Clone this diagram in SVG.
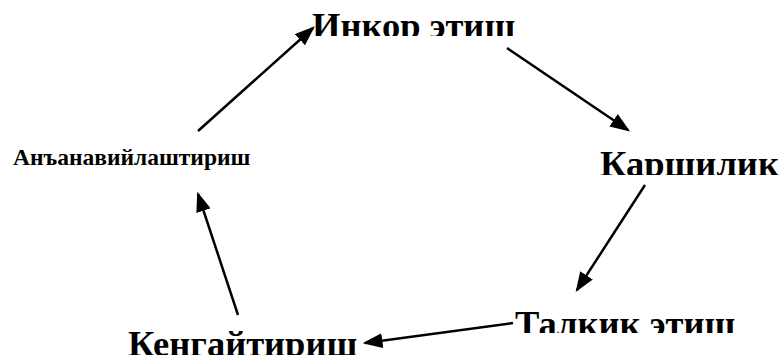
<svg xmlns="http://www.w3.org/2000/svg" width="783" height="356" viewBox="0 0 783 356">
<style>
text{font-family:"Liberation Serif","Times New Roman",serif;font-weight:bold;fill:#000}
.big{font-size:36.5px}
.small{font-size:23.5px}
.c line{stroke:#000;stroke-width:2.5}
</style>
<defs>
<marker id="ah" markerWidth="8" markerHeight="6" refX="7" refY="3" orient="auto" markerUnits="strokeWidth">
<path d="M0,0 L8,3 L0,6 Z" fill="#000"/>
</marker>
<clipPath id="c1"><rect x="0" y="0" width="783" height="36"/></clipPath>
<clipPath id="c2"><rect x="0" y="140" width="783" height="35"/></clipPath>
<clipPath id="c3"><rect x="0" y="300" width="783" height="33"/></clipPath>
<clipPath id="c4"><rect x="0" y="320" width="783" height="35"/></clipPath>
</defs>
<rect width="783" height="356" fill="#fff"/>
<g id="n1" clip-path="url(#c1)"><text class="big" x="312" y="38">Инкор этиш</text></g>
<g id="n2" clip-path="url(#c2)"><text class="big" x="600" y="176">Каршилик</text></g>
<g id="n3" clip-path="url(#c3)"><text class="big" x="515" y="336">Талкик этиш</text></g>
<g id="n4" clip-path="url(#c4)"><text class="big" x="128" y="356">Кенгайтириш</text></g>
<g id="n5"><text class="small" x="13" y="165">Анъанавийлаштириш</text></g>
<g id="connectors" class="c">
<line x1="198" y1="131" x2="313" y2="28" marker-end="url(#ah)"/>
<line x1="507" y1="48" x2="628" y2="130" marker-end="url(#ah)"/>
<line x1="645" y1="185" x2="577" y2="290" marker-end="url(#ah)"/>
<line x1="513" y1="323" x2="365" y2="343" marker-end="url(#ah)"/>
<line x1="238" y1="315" x2="198" y2="194" marker-end="url(#ah)"/>
</g>
</svg>
